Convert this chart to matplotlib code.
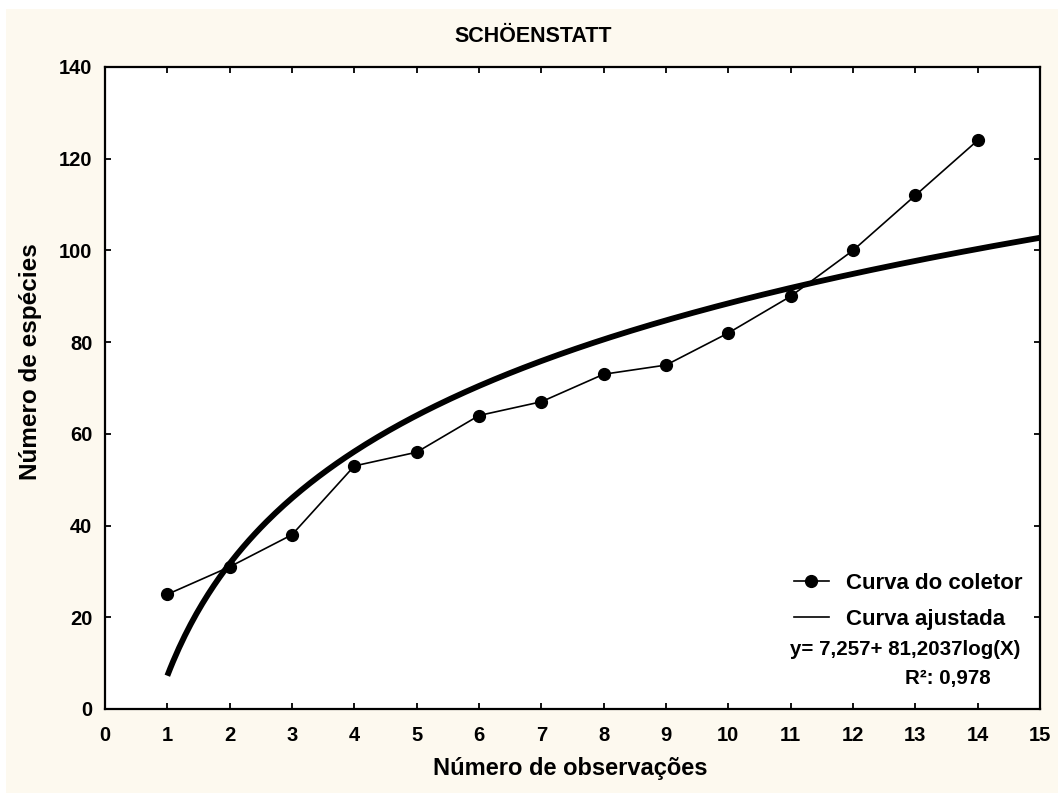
import matplotlib.pyplot as plt
import numpy as np
from matplotlib.lines import Line2D
from matplotlib.patches import Rectangle

plt.rcParams["font.family"] = ["Liberation Sans", "DejaVu Sans"]
plt.rcParams["font.weight"] = "bold"

# collector curve (species accumulation)
obs = [1, 2, 3, 4, 5, 6, 7, 8, 9, 10, 11, 12, 13, 14]
species = [25, 31, 38, 53, 56, 64, 67, 73, 75, 82, 90, 100, 112, 124]

# fitted curve y = a + b*log10(x)
fit_a = 7.257
fit_b = 81.2037
fit_xmin, fit_xmax = 1, 15

title = "SCHÖENSTATT"
xlabel = "Número de observações"
ylabel = "Número de espécies"
legend_labels = ["Curva do coletor", "Curva ajustada"]
eq_text = "y= 7,257+ 81,2037log(X)"
r2_text = "R²: 0,978"

xticks = list(range(0, 16))
yticks = [0, 20, 40, 60, 80, 100, 120, 140]

cream = "#fdf9ef"

fig = plt.figure(figsize=(10.58, 7.95), dpi=100, facecolor="white")
fig.patches.append(Rectangle((6 / 1058, 2 / 795), 1 - 6 / 1058, 784 / 795,
                             transform=fig.transFigure, facecolor=cream,
                             edgecolor="none", zorder=-10))

ax = fig.add_axes([105 / 1058, 86 / 795, 935 / 1058, 642 / 795])
ax.set_facecolor("white")

fx = np.linspace(fit_xmin, fit_xmax, 300)
ax.plot(fx, fit_a + fit_b * np.log10(fx), color="black", lw=4.2,
        solid_capstyle="butt", zorder=2)
ax.plot(obs, species, color="black", lw=1.2, marker="o", markersize=8.5,
        zorder=3)

ax.set_xlim(0, 15)
ax.set_ylim(0, 140)
ax.set_xticks(xticks)
ax.set_yticks(yticks)
ax.tick_params(direction="in", length=4, width=1.3, top=True, right=True)
ax.tick_params(axis="x", pad=12.5, labelsize=14.5)
ax.tick_params(axis="y", pad=9, labelsize=14.5)
for s in ax.spines.values():
    s.set_linewidth(1.6)

handles = [
    Line2D([], [], color="black", lw=1.2, marker="o", markersize=8.5),
    Line2D([], [], color="black", lw=1.2),
]
ax.legend(handles, legend_labels, loc="center right",
          bbox_to_anchor=(0.981, 0.168), frameon=False, fontsize=16,
          borderpad=0, borderaxespad=0, handlelength=1.6,
          handletextpad=0.75, labelspacing=0.68)

ax.text(0.979, 0.092, eq_text, transform=ax.transAxes, ha="right",
        va="center", fontsize=14.8, fontweight="bold")
ax.text(0.947, 0.048, r2_text, transform=ax.transAxes, ha="right",
        va="center", fontsize=14.8, fontweight="bold")

fig.text(533 / 1058, 1 - 37 / 795, title, ha="center", va="center",
         fontsize=15.5, fontweight="bold")
fig.text(570 / 1058, 1 - 768 / 795, xlabel, ha="center", va="center",
         fontsize=17, fontweight="bold")
fig.text(31 / 1058, 1 - 362 / 795, ylabel, ha="center", va="center",
         rotation=90, fontsize=17.5, fontweight="bold")

fig.savefig("out.png", dpi=100, facecolor="white")
